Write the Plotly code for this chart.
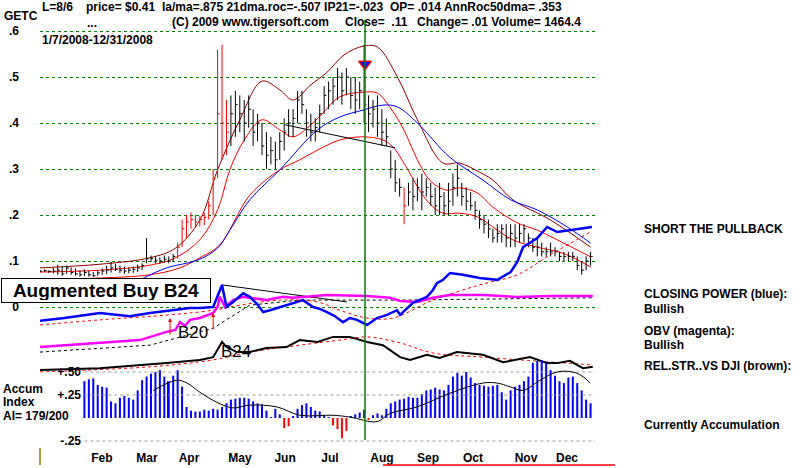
import plotly.graph_objects as go

FONT = "Liberation Sans, Arial, sans-serif"

# ---------------- price data (every 2nd trading day, 2008) ----------------
days = list(range(0, 250, 2))
high = [.080,.082,.080,.085,.092,.088,.090,.086,.084,.080,.082,.078,.076,.080,.084,.090,.098,.094,.090,.088,
        .086,.088,.092,.095,.150,.112,.110,.108,.112,.110,.115,.140,.190,.200,.205,.200,.198,.205,.230,.300,
        .560,.570,.450,.460,.470,.460,.450,.460,.430,.420,.400,.380,.370,.360,.380,.410,.430,.430,.470,.470,
        .430,.420,.410,.440,.480,.490,.500,.520,.510,.520,.500,.500,.490,.570,.460,.450,.460,.430,.410,.340,
        .320,.280,.260,.270,.280,.280,.290,.280,.270,.260,.270,.250,.270,.290,.310,.270,.260,.250,.230,.210,
        .200,.190,.170,.180,.180,.180,.180,.180,.180,.180,.160,.150,.150,.140,.130,.140,.130,.120,.120,.120,
        .120,.110,.100,.110,.120]
low = [.075,.076,.074,.073,.070,.068,.072,.070,.068,.066,.067,.066,.065,.068,.070,.072,.075,.078,.074,.072,
       .073,.074,.076,.080,.095,.098,.095,.094,.096,.095,.098,.105,.130,.150,.170,.172,.175,.178,.190,.200,
       .280,.320,.330,.350,.370,.380,.360,.390,.350,.360,.330,.300,.310,.300,.320,.340,.370,.370,.400,.420,
       .370,.360,.360,.380,.420,.430,.440,.450,.440,.460,.430,.420,.430,.400,.380,.390,.370,.350,.350,.280,
       .250,.240,.180,.220,.210,.230,.210,.240,.220,.200,.200,.200,.200,.220,.240,.220,.210,.210,.190,.170,
       .160,.150,.140,.140,.140,.130,.130,.130,.140,.140,.130,.120,.110,.110,.110,.110,.110,.100,.100,.100,
       .100,.080,.070,.080,.090]
close = [.078,.079,.077,.078,.080,.072,.085,.075,.072,.070,.075,.070,.068,.074,.078,.080,.085,.082,.080,.078,
         .080,.082,.085,.090,.105,.105,.102,.100,.104,.100,.110,.130,.170,.185,.190,.185,.190,.195,.220,.280,
         .420,.400,.380,.420,.440,.420,.400,.430,.380,.400,.350,.330,.340,.320,.360,.380,.400,.410,.450,.440,
         .400,.380,.390,.420,.460,.470,.480,.500,.470,.500,.460,.450,.470,.440,.420,.430,.400,.380,.370,.300,
         .270,.260,.220,.250,.240,.260,.250,.260,.240,.220,.240,.220,.230,.260,.280,.240,.230,.220,.210,.190,
         .180,.170,.150,.160,.170,.150,.160,.150,.160,.170,.150,.130,.130,.120,.120,.120,.120,.110,.110,.110,
         .110,.090,.080,.100,.110]
red_bar_idx = list(range(31, 43)) + [82]

# moving averages / bands on the price panel (trading day, price)
upper_band_x = [0, 27, 49.5, 61, 72, 80, 90, 100, 108, 114, 122, 129, 137, 145.5, 152, 161, 170, 181.5, 189, 198, 204, 213, 230, 248]
upper_band_y = [.085,.093,.107,.128,.189,.298,.407,.491,.472,.450,.483,.509,.548,.567,.565,.500,.407,.313,.313,.293,.276,.233,.189,.130]
ma21_x = [0, 27, 49.5, 61, 72, 80, 85.5, 92, 100, 108, 114, 122, 127.5, 135, 145.5, 152, 157.5, 163.5, 170, 175.5, 183, 189, 197, 204, 215, 224, 233, 248]
ma21_y = [.076,.080,.091,.107,.146,.211,.298,.363,.407,.385,.370,.396,.422,.457,.467,.465,.435,.389,.320,.276,.254,.259,.248,.217,.183,.167,.146,.109]
lower_band_x = [0, 27, 49.5, 63, 72, 81, 94.5, 108, 117, 125, 135, 145.5, 154.5, 159, 165, 174, 181.5, 189, 197, 204, 213, 224, 235.5, 248]
lower_band_y = [.059,.063,.070,.085,.107,.135,.243,.298,.320,.341,.363,.370,.363,.348,.304,.233,.204,.204,.196,.174,.146,.130,.117,.087]
ma50_x = [45, 57, 71, 80, 85.5, 94.5, 108, 125, 135, 145.5, 154.5, 161, 170, 184.5, 199.5, 212, 224, 237.5, 248]
ma50_y = [.059,.085,.102,.128,.167,.233,.298,.385,.413,.428,.439,.435,.400,.326,.276,.233,.211,.174,.139]
trend_x = [110.4, 160]
trend_y = [.396, .346]
signal_day = 146.4
signal_price = .528

# ---------------- indicators (relative units) ----------------
cp_x = [0, 11, 27, 40.5, 49.5, 58.5, 67.5, 72, 78, 80, 82, 84, 87, 91.5, 94.5, 97.7, 100.5, 103.6, 108, 112.6, 115.8, 118.5,
        123, 126, 129.3, 132.9, 136.5, 139.6, 142.8, 147.3, 151.8, 156.3, 160.8, 162.2, 168, 174.3, 177, 178.8, 181.5, 184.7,
        190.5, 198, 206, 212, 215, 217.6, 224, 228.4, 233, 238.7, 244.6, 248.6]
cp_y = [-3.0,-2.4,-1.3,-2.0,-1.3,-0.7,-0.2,-0.2,0.0,2.4,4.8,0.0,1.1,3.0,2.2,0.7,-1.1,-0.7,0.0,0.7,1.1,1.5,
        0.0,-0.4,-1.1,-2.0,-3.3,-2.4,-2.8,-3.9,-2.4,-1.7,-0.7,-1.7,0.9,2.2,3.7,5.2,5.9,7.4,
        7.0,6.3,5.9,7.6,9.8,13.0,15.0,17.4,16.3,16.7,17.2,17.4]
cp_ma_x = [0, 27, 58.5, 78, 90, 108, 125, 135, 147.3, 159, 177, 198, 215, 229.7, 248]
cp_ma_y = [-3.9,-2.8,-1.7,-0.7,0.4,1.5,1.1,-0.7,-2.4,-2.4,1.5,4.8,7.0,11.3,16.3]
cp_trend_x = [82, 138.3]
cp_trend_y = [4.8, 1.1]
obv_x = [0, 27, 45, 57, 61, 63, 65.3, 67.6, 72, 78, 80, 81, 83.3, 87, 91.5, 102, 109.5, 114, 129.3, 147.3, 157.7, 162.2, 170, 177, 184.7, 199.5, 215, 229.7, 249]
obv_y = [-8.7,-7.8,-7.2,-5.4,-5.0,-3.3,-4.1,-2.8,-2.4,-1.3,0.0,2.2,0.0,1.5,2.2,1.5,2.2,2.0,2.6,2.4,2.0,1.3,1.1,2.0,2.6,2.6,2.2,2.4,2.4]
obv_ma_x = [0, 49.5, 78, 94.5, 117, 162.2, 249]
obv_ma_y = [-9.8,-8.3,-4.6,0.4,1.5,1.5,2.0]
rs_x = [0, 27, 57, 72, 78, 80, 82, 84, 88.7, 94.5, 102, 111, 117, 125, 132, 139.6, 147.3, 154.5, 162.2, 166.7, 174.3, 180, 187.8, 199.5, 208.6, 220.7, 228.4, 233, 238.7, 244.6, 249]
rs_y = [-13.7,-13.3,-12.2,-11.5,-10.9,-9.3,-7.6,-8.7,-9.8,-9.8,-8.9,-8.7,-7.2,-7.6,-6.5,-6.5,-7.6,-8.3,-10.9,-11.5,-10.4,-11.1,-9.8,-10.4,-12.0,-10.9,-12.2,-12.2,-11.7,-13.3,-13.0]
rs_ma_x = [0, 49.5, 78, 94.5, 117, 135, 147.3, 162.2, 177, 199.5, 249]
rs_ma_y = [-14.1,-13.0,-11.5,-9.8,-8.3,-7.2,-6.5,-7.8,-10.0,-10.9,-12.6]
buy_signals = {"B20": (58.6, -2.4), "B24": (78, -1.3)}

# Accumulation index
ai_days = list(range(20, 250, 2))
ai_vals = [.40,.42,.43,.36,.34,.33,.18,.16,.22,.24,.22,.20,.30,.41,.45,.48,.50,.52,.45,.40,
           .46,.52,.34,.12,.08,.07,.07,.09,.08,.10,.09,.12,.16,.20,.21,.22,.22,.21,.18,.16,
           .15,.08,.01,.10,.04,-.11,-.09,.02,.10,.14,.16,.12,.08,.07,.03,.01,-.08,-.12,-.22,-.14,
           .02,.04,.06,.09,-.02,.03,.05,.03,.10,.16,.18,.20,.21,.23,.22,.22,.26,.30,.31,.33,
           .31,.30,.36,.45,.49,.46,.50,.44,.38,.36,.35,.34,.35,.36,.28,.20,.30,.34,.36,.40,
           .45,.60,.62,.63,.60,.52,.46,.40,.38,.44,.45,.38,.30,.20,.16]
ai_ma_x = [51, 61.7, 66.2, 72, 79.7, 87, 94.6, 106.8, 117, 132, 139.6, 151.8, 157.7, 169.8, 184.7, 199.5, 205.9, 211.7, 217.6, 225.2, 232.9, 240, 244.6, 247.7]
ai_ma_y = [.30,.41,.38,.28,.17,.11,.14,.12,.03,.03,.01,-.04,.05,.12,.27,.38,.38,.34,.30,.41,.50,.50,.45,.38]
ai_levels = [.50, .25, -.25]
ai_labels = ["+.50", "+.25", "-.25"]

price_ticks = [0, .1, .2, .3, .4, .5, .6]
price_labels = ["0", ".1", ".2", ".3", ".4", ".5", ".6"]
month_pos = [27.9, 48.2, 67.1, 90.1, 110.4, 130.6, 154, 174.8, 195, 218.9, 237.4]
month_names = ["Feb", "Mar", "Apr", "May", "Jun", "Jul", "Aug", "Sep", "Oct", "Nov", "Dec"]

# ---------------- figure ----------------
fig = go.Figure()

def segs(idx):
    xs, ys = [], []
    for i in idx:
        d = days[i]
        xs += [d, d, None, d, d + 1.0, None]
        ys += [low[i], high[i], None, close[i], close[i], None]
    return xs, ys

black_idx = [i for i in range(len(days)) if i not in red_bar_idx]
bx, by = segs(black_idx)
rx, ry = segs(red_bar_idx)

def line(x, y, color, width=1, dash=None, yaxis="y", shape="linear"):
    fig.add_trace(go.Scatter(x=x, y=y, mode="lines", yaxis=yaxis, hoverinfo="skip",
                             line=dict(color=color, width=width, dash=dash, shape=shape)))

# AI grid lines
for lv in ai_levels:
    line([20, 250], [lv, lv], "#9a9a9a", 1, "dot", "y3")

# price panel overlays
line(upper_band_x, upper_band_y, "#8b0000", 1, shape="spline")
line(ma21_x, ma21_y, "#ff0000", 1, shape="spline")
line(lower_band_x, lower_band_y, "#ff0000", 1, shape="spline")
line(ma50_x, ma50_y, "#0000ff", 1, shape="spline")
line(trend_x, trend_y, "#000000", 1)

fig.add_trace(go.Scatter(x=bx, y=by, mode="lines", line=dict(color="#000000", width=1), hoverinfo="skip"))
fig.add_trace(go.Scatter(x=rx, y=ry, mode="lines", line=dict(color="#ff0000", width=1), hoverinfo="skip"))

# indicator lines
line(obv_ma_x, obv_ma_y, "#000000", 1, "dot", "y2")
line(cp_ma_x, cp_ma_y, "#ff0000", 1, "dot", "y2", "spline")
line(rs_ma_x, rs_ma_y, "#ff0000", 1, "dot", "y2", "spline")
line(cp_trend_x, cp_trend_y, "#000000", 1, None, "y2")
line(obv_x, obv_y, "#ff00ff", 2.5, None, "y2")
line(cp_x, cp_y, "#0000ff", 2.5, None, "y2")
line(rs_x, rs_y, "#000000", 2, None, "y2")

# accumulation index bars
pos_x = [d for d, v in zip(ai_days, ai_vals) if v >= 0]
pos_y = [v for v in ai_vals if v >= 0]
neg_x = [d for d, v in zip(ai_days, ai_vals) if v < 0]
neg_y = [v for v in ai_vals if v < 0]
fig.add_trace(go.Bar(x=pos_x, y=pos_y, yaxis="y3", marker=dict(color="#0000ff", line=dict(width=0)), width=0.9, hoverinfo="skip"))
fig.add_trace(go.Bar(x=neg_x, y=neg_y, yaxis="y3", marker=dict(color="#ff0000", line=dict(width=0)), width=0.9, hoverinfo="skip"))
line(ai_ma_x, ai_ma_y, "#000000", 1, None, "y3", "spline")

# sell signal marker
fig.add_trace(go.Scatter(x=[signal_day], y=[signal_price], mode="markers", hoverinfo="skip",
                         marker=dict(symbol="triangle-down", size=11, color="#0000ff", line=dict(color="#ff0000", width=1.5))))

shapes = [
    dict(type="line", xref="x", yref="paper", x0=signal_day, x1=signal_day, y0=(468 - 440) / 468, y1=(468 - 20) / 468,
         line=dict(color="#008000", width=1.5)),
    dict(type="line", xref="paper", yref="paper", x0=383 / 800, x1=615 / 800, y0=3 / 468, y1=3 / 468,
         line=dict(color="#ff0000", width=1.5)),
    dict(type="line", xref="paper", yref="paper", x0=40 / 800, x1=40 / 800, y0=3 / 468, y1=20 / 468,
         line=dict(color="#808000", width=1.5)),
]

def ann(text, x, y, size=12, bold=True, anchor="left", **kw):
    t = f"<b>{text}</b>" if bold else text
    return dict(text=t, x=x / 800, y=1 - y / 468, xref="paper", yref="paper", showarrow=False,
                xanchor=anchor, yanchor="middle", font=dict(family=FONT, size=size, color="#000000"), **kw)

NB = "\u00a0"
annotations = [
    ann("L=8/6", 40, 7),
    ann("price= $0.41", 84, 7),
    ann("la/ma=.875 21dma.roc=-.507 IP21=-.023", 160, 7),
    ann("OP= .014 AnnRoc50dma= .353", 388, 7),
    ann("GETC", 2, 16),
    ann("...", 85, 23),
    ann("(C) 2009 www.tigersoft.com", 170, 22),
    ann(f"Close={NB}{NB}.11", 343, 22),
    ann("Change= .01 Volume= 1464.4", 415, 22),
    ann("1/7/2008-12/31/2008", 40, 40),
    ann("Accum", 1, 389),
    ann("Index", 1, 402),
    ann("AI= 179/200", 1, 416),
    ann("SHORT THE PULLBACK", 642, 229),
    ann("CLOSING POWER (blue):", 642, 294),
    ann("Bullish", 642, 309),
    ann("OBV (magenta):", 642, 331),
    ann("Bullish", 642, 345),
    ann("REL.STR..VS DJI (brown):", 642, 366),
    ann("Currently Accumulation", 642, 425),
    ann("Augmented Buy B24", 106, 290, size=19, anchor="center", bgcolor="#ffffff",
        bordercolor="#000000", borderwidth=1, borderpad=2, width=204, height=19),
    ann("B20", 193, 332, size=17, bold=False, anchor="center"),
    ann("B24", 236, 351, size=17, bold=False, anchor="center"),
]
for name, (bx_, by_) in buy_signals.items():
    annotations.append(dict(x=bx_, y=by_, xref="x", yref="y2", text="", showarrow=True, ax=0, ay=18,
                            arrowhead=2, arrowsize=0.8, arrowwidth=1, arrowcolor="#ff0000"))

fig.update_layout(
    width=800, height=468, margin=dict(l=0, r=0, t=0, b=0),
    paper_bgcolor="#ffffff", plot_bgcolor="#ffffff", showlegend=False, barmode="overlay",
    font=dict(family=FONT, size=12, color="#000000"),
    xaxis=dict(domain=[40 / 800, 595 / 800], range=[0, 250], anchor="free", position=(468 - 449) / 468,
               tickvals=month_pos, ticktext=[f"<b>{m}</b>" for m in month_names], ticks="",
               showgrid=False, zeroline=False, showline=False, tickfont=dict(size=12, family=FONT)),
    yaxis=dict(domain=[0, 1], range=[-0.35, 307 / 460], tickvals=price_ticks,
               ticktext=[f"<b>{t}</b>" for t in price_labels], ticks="", showline=False, zeroline=False,
               showgrid=True, gridcolor="#008000", griddash="dot", gridwidth=1, ticklabelstandoff=20,
               tickfont=dict(size=12, family=FONT)),
    yaxis2=dict(overlaying="y", range=[-35, 30700 / 460], visible=False),
    yaxis3=dict(overlaying="y", range=[-50 / 92, 418 / 92], anchor="free", position=81 / 800,
                tickvals=ai_levels, ticktext=[f"<b>{t}</b>" for t in ai_labels], ticks="",
                showgrid=False, zeroline=False, showline=False, tickfont=dict(size=12, family=FONT)),
    shapes=shapes, annotations=annotations,
)

fig.write_html("out.html")
